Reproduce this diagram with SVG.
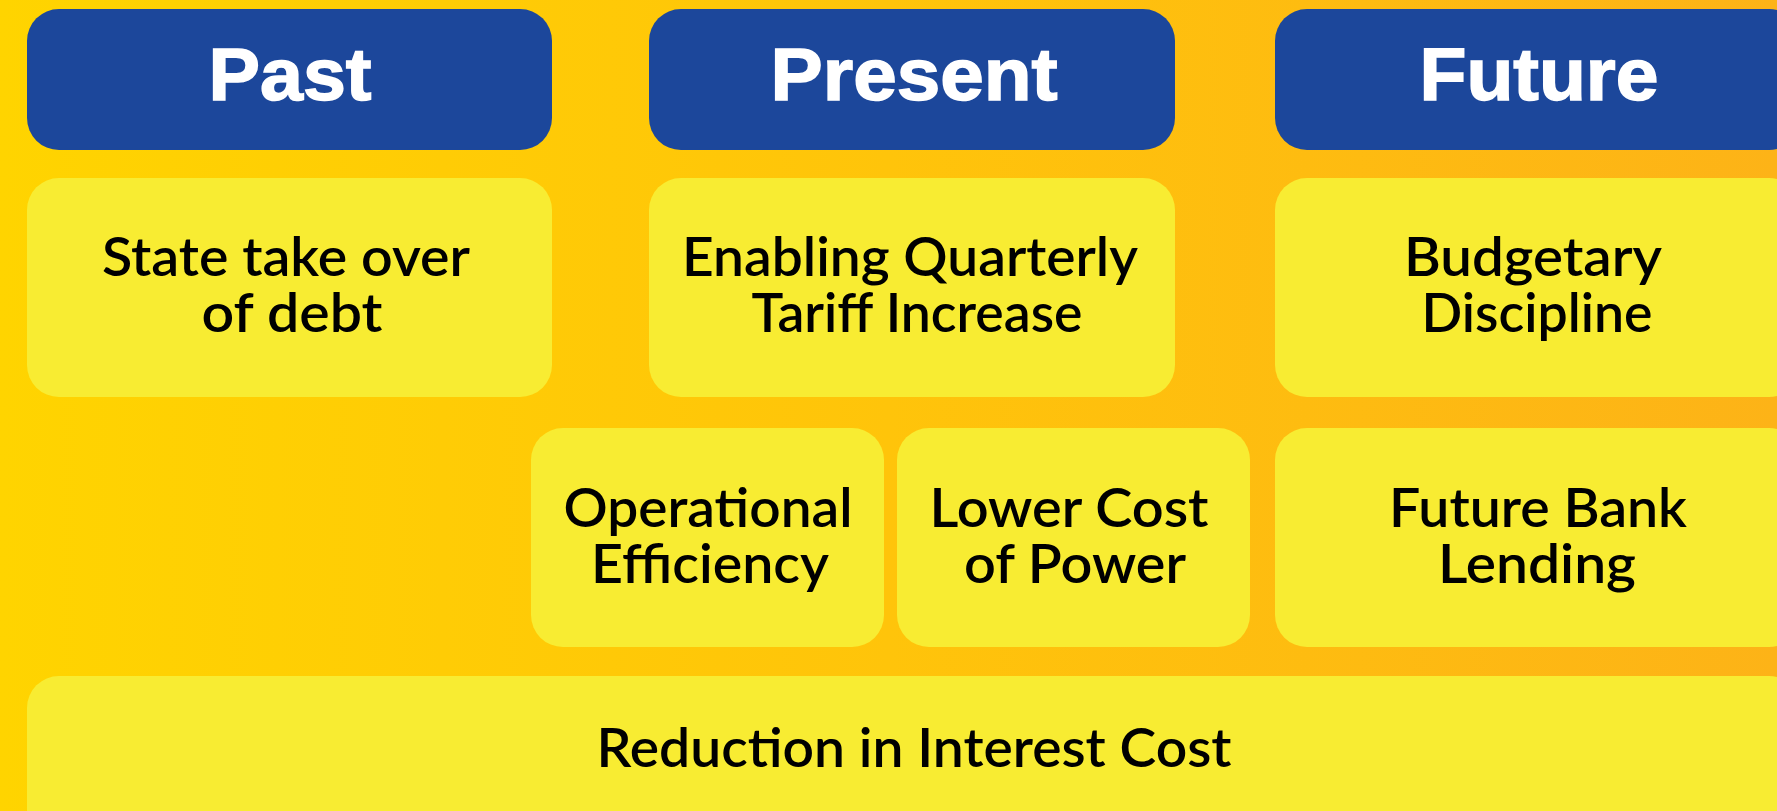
<svg xmlns="http://www.w3.org/2000/svg" width="1777" height="811" viewBox="0 0 1777 811">
  <defs>
    <linearGradient id="bg" x1="0" y1="0" x2="1" y2="0">
      <stop offset="0" stop-color="#FFD400"/>
      <stop offset="0.5" stop-color="#FFC40A"/>
      <stop offset="1" stop-color="#FDB317"/>
    </linearGradient>
  </defs>
  <style>
    .hdr { fill: #1C479B; }
    .box { fill: #F8EC32; }
    .ht { font-family: "Liberation Sans", Arial, sans-serif; font-weight: 700; font-size: 74px; fill: #FFFFFF; stroke: #FFFFFF; stroke-width: 1.5; text-anchor: middle; }
    .bt { font-family: Lato, "Open Sans", sans-serif; font-weight: 600; font-size: 54px; fill: #000000; text-anchor: middle; }
  </style>
  <rect x="0" y="0" width="1777" height="811" fill="url(#bg)"/>

  <g id="past-header">
    <rect class="hdr" x="27" y="9" width="525" height="141" rx="32" ry="32"/>
    <text class="ht" x="290" y="100" textLength="163" lengthAdjust="spacingAndGlyphs">Past</text>
  </g>
  <g id="present-header">
    <rect class="hdr" x="649" y="9" width="526" height="141" rx="32" ry="32"/>
    <text class="ht" x="914" y="100" textLength="287" lengthAdjust="spacingAndGlyphs">Present</text>
  </g>
  <g id="future-header">
    <rect class="hdr" x="1275" y="9" width="526" height="141" rx="32" ry="32"/>
    <text class="ht" x="1539" y="100" textLength="239" lengthAdjust="spacingAndGlyphs">Future</text>
  </g>

  <g id="state-takeover">
    <rect class="box" x="27" y="178" width="525" height="219" rx="32" ry="32"/>
    <text class="bt"><tspan x="286" y="276" textLength="368" lengthAdjust="spacingAndGlyphs">State take over</tspan><tspan x="292" y="332" textLength="181" lengthAdjust="spacingAndGlyphs">of debt</tspan></text>
  </g>
  <g id="quarterly-tariff">
    <rect class="box" x="649" y="178" width="526" height="219" rx="32" ry="32"/>
    <text class="bt"><tspan x="910" y="276" textLength="456" lengthAdjust="spacingAndGlyphs">Enabling Quarterly</tspan><tspan x="917" y="332" textLength="331" lengthAdjust="spacingAndGlyphs">Tariff Increase</tspan></text>
  </g>
  <g id="budgetary-discipline">
    <rect class="box" x="1275" y="178" width="526" height="219" rx="32" ry="32"/>
    <text class="bt"><tspan x="1533" y="276" textLength="258" lengthAdjust="spacingAndGlyphs">Budgetary</tspan><tspan x="1537" y="332" textLength="231" lengthAdjust="spacingAndGlyphs">Discipline</tspan></text>
  </g>

  <g id="operational-efficiency">
    <rect class="box" x="531" y="428" width="353" height="219" rx="32" ry="32"/>
    <text class="bt"><tspan x="708" y="527" textLength="289" lengthAdjust="spacingAndGlyphs">Operational</tspan><tspan x="710" y="583" textLength="238" lengthAdjust="spacingAndGlyphs">Efficiency</tspan></text>
  </g>
  <g id="lower-cost-power">
    <rect class="box" x="897" y="428" width="353" height="219" rx="32" ry="32"/>
    <text class="bt"><tspan x="1069" y="527" textLength="279" lengthAdjust="spacingAndGlyphs">Lower Cost</tspan><tspan x="1075" y="583" textLength="222" lengthAdjust="spacingAndGlyphs">of Power</tspan></text>
  </g>
  <g id="future-bank-lending">
    <rect class="box" x="1275" y="428" width="526" height="219" rx="32" ry="32"/>
    <text class="bt"><tspan x="1538" y="527" textLength="298" lengthAdjust="spacingAndGlyphs">Future Bank</tspan><tspan x="1537" y="583" textLength="198" lengthAdjust="spacingAndGlyphs">Lending</tspan></text>
  </g>

  <g id="reduction-interest-cost">
    <rect class="box" x="27" y="676" width="1774" height="219" rx="32" ry="32"/>
    <text class="bt" x="914" y="767" textLength="635" lengthAdjust="spacingAndGlyphs">Reduction in Interest Cost</text>
  </g>

  <g id="connectors"></g>
</svg>
